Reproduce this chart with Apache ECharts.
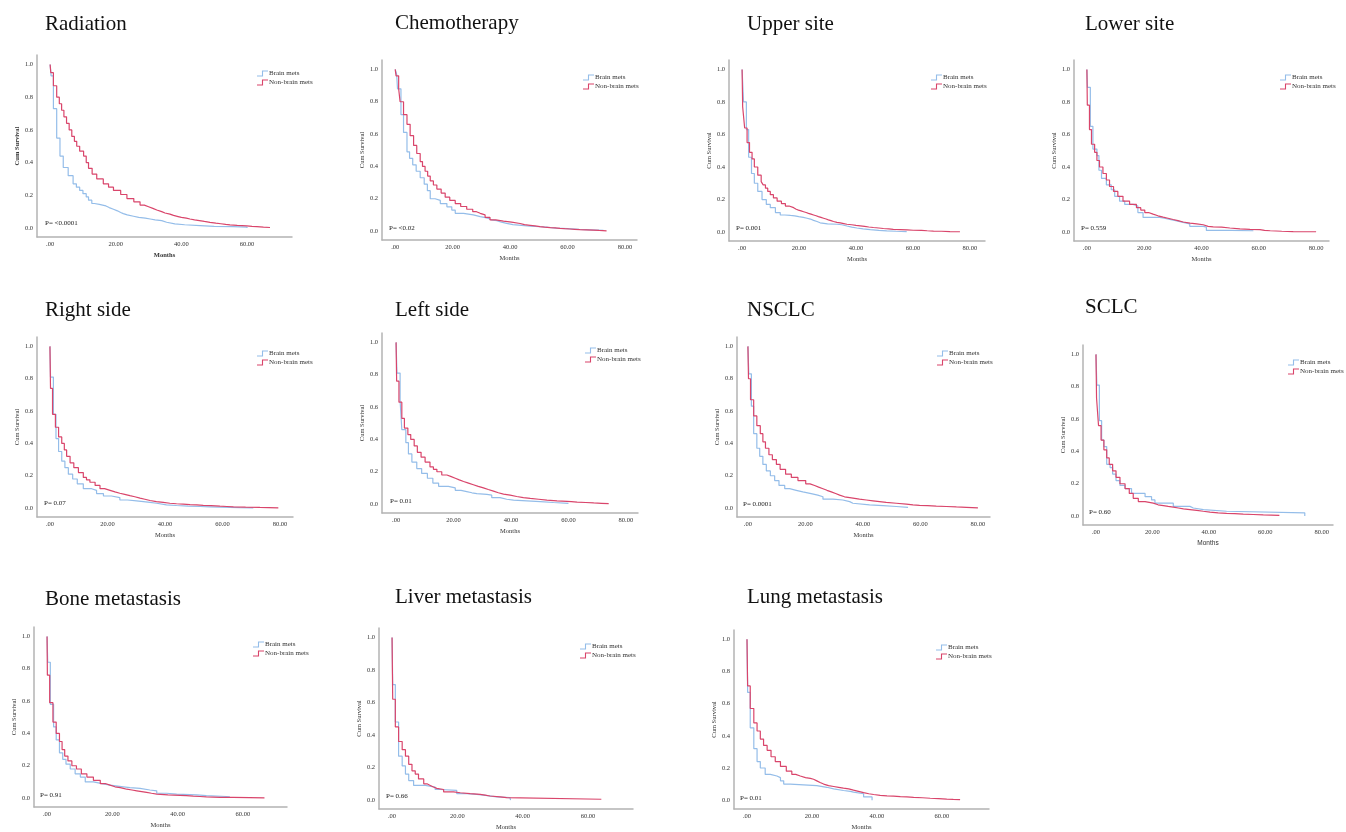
<!DOCTYPE html>
<html>
<head>
<meta charset="utf-8">
<script src="https://cdn.jsdelivr.net/npm/echarts@6/dist/echarts.min.js"></script>
<style>
  html, body { margin: 0; padding: 0; background: #fff; }
  #main { width: 1346px; height: 832px; }
</style>
</head>
<body>
<div id="main"></div>
<script>
// ---- data: [months, cumulative survival] ----
var titles = ['Radiation', 'Chemotherapy', 'Upper site', 'Lower site',
  'Right side', 'Left side', 'NSCLC', 'SCLC',
  'Bone metastasis', 'Liver metastasis', 'Lung metastasis'];
var pValues = ['P= <0.0001', 'P= <0.02', 'P= 0.001', 'P= 0.559',
  'P= 0.07', 'P= 0.01', 'P= 0.0001', 'P= 0.60',
  'P= 0.91', 'P= 0.66', 'P= 0.01'];
var groupNames = ['Brain mets', 'Non-brain mets'];
var xTicks60 = [0, 20, 40, 60];
var xTicks80 = [0, 20, 40, 60, 80];
var yTicks = [0, 0.2, 0.4, 0.6, 0.8, 1.0];

var radiationBrain = [[0,1],[0.3,0.93],[1,0.73],[2,0.55],[3,0.44],[4,0.37],[5.5,0.32],[7,0.27],[8,0.25],[9,0.23],[10,0.21],[11,0.19],[11.7,0.17],[12.7,0.15],[13.5,0.145],[15,0.14],[16,0.135],[17,0.125],[18,0.115],[19.3,0.105],[20.5,0.095],[21.5,0.088],[22.3,0.08],[23.5,0.072],[25.4,0.065],[27,0.06],[29,0.055],[30.5,0.05],[32,0.045],[34,0.035],[35.5,0.025],[38,0.02],[41,0.015],[45.7,0.01],[50,0.008],[55.8,0.005],[60,0]];
var radiationNonBrain = [[0,1],[0.2,0.95],[1,0.87],[2,0.8],[2.8,0.76],[3.5,0.72],[4.2,0.68],[5,0.64],[5.8,0.6],[6.6,0.56],[7.4,0.53],[8.1,0.5],[9,0.47],[10.2,0.44],[11,0.4],[11.7,0.365],[12.8,0.33],[14.2,0.3],[16.2,0.27],[17.8,0.25],[19.3,0.23],[21.5,0.205],[23.4,0.18],[25.5,0.16],[27.4,0.14],[28.7,0.13],[30,0.12],[31.3,0.11],[32.5,0.1],[34,0.092],[35,0.085],[36.5,0.077],[37.6,0.07],[39,0.065],[40,0.06],[41.5,0.055],[42.6,0.05],[44,0.045],[45.5,0.04],[47,0.035],[48.7,0.03],[50.5,0.026],[52,0.022],[53.5,0.019],[54.8,0.016],[57,0.013],[59.9,0.01],[61.5,0.008],[63,0.005],[65,0.003],[67,0]];

var chemoBrain = [[0,1],[0.5,0.97],[0.8,0.88],[2,0.72],[2.9,0.61],[4.1,0.49],[5,0.45],[6.1,0.41],[7.3,0.37],[8.7,0.33],[10.1,0.29],[11.2,0.25],[12.2,0.2],[13.9,0.19],[15.7,0.17],[18,0.15],[19.7,0.13],[20.9,0.11],[23.8,0.1],[27.2,0.09],[29.6,0.085],[31,0.078],[32.5,0.07],[33.5,0.065],[35.4,0.055],[37,0.048],[38.8,0.04],[41,0.035],[44,0.03],[47,0.027],[50.4,0.024],[53,0.019],[56,0.015],[60,0.011],[64,0.008],[68,0.004],[72.5,0]];
var chemoNonBrain = [[0,1],[0.3,0.96],[1.2,0.88],[1.7,0.8],[2.9,0.72],[4.1,0.66],[5.2,0.59],[6.4,0.53],[7.5,0.48],[8.7,0.43],[9.5,0.4],[10.4,0.37],[11.3,0.34],[12.2,0.31],[13.3,0.285],[14.5,0.26],[16,0.235],[17.4,0.21],[19,0.19],[20.9,0.17],[22.8,0.152],[24.9,0.135],[27,0.12],[28.3,0.11],[29.6,0.1],[31.3,0.085],[33,0.07],[35,0.062],[37.7,0.055],[40.5,0.047],[43.5,0.04],[45,0.036],[47,0.032],[48.7,0.028],[50.4,0.025],[52,0.022],[54,0.02],[55.7,0.017],[57.4,0.015],[59,0.013],[60.8,0.011],[62.5,0.009],[64.3,0.008],[66.5,0.006],[69,0.004],[71,0.002],[73.6,0]];

var upperBrain = [[0,1],[0.5,0.8],[1.5,0.63],[2.3,0.46],[3.3,0.36],[4.3,0.3],[5.5,0.25],[7,0.2],[8.5,0.17],[9.9,0.15],[11.7,0.12],[13.4,0.105],[15,0.102],[17,0.1],[18.5,0.095],[19.9,0.09],[21.5,0.085],[22.8,0.08],[24,0.072],[25.1,0.065],[26.3,0.057],[27.4,0.05],[30,0.048],[33.3,0.045],[35,0.037],[36.8,0.03],[38.5,0.025],[40.3,0.02],[42.5,0.015],[45,0.01],[48,0.007],[50.8,0.005],[54,0.003],[57.8,0]];
var upperNonBrain = [[0,1],[0.2,0.77],[0.9,0.64],[1.75,0.55],[2.6,0.49],[3.5,0.45],[4.3,0.4],[5.5,0.35],[6.7,0.31],[7.4,0.29],[8.2,0.27],[9,0.25],[9.9,0.23],[11,0.21],[12.3,0.19],[13.8,0.175],[15.2,0.16],[16.5,0.15],[18.1,0.14],[19,0.135],[19.8,0.13],[20.7,0.125],[21.6,0.12],[22.5,0.115],[23.3,0.11],[24.2,0.105],[25.1,0.1],[26,0.095],[26.8,0.09],[27.7,0.085],[28.6,0.08],[29.5,0.075],[30.3,0.07],[31.2,0.065],[32.1,0.06],[33.3,0.056],[34.5,0.052],[35.7,0.048],[36.8,0.045],[38.5,0.041],[40,0.038],[41.5,0.035],[43,0.031],[44.5,0.028],[46.1,0.025],[48,0.022],[49.6,0.02],[51.5,0.017],[53.1,0.015],[55.5,0.013],[58,0.011],[60.1,0.01],[63,0.008],[65,0.006],[67.2,0.005],[70,0.003],[73,0.002],[76.5,0]];

var lowerBrain = [[0,1],[0.2,0.89],[1.2,0.65],[2.1,0.51],[3.5,0.47],[4.2,0.38],[5.1,0.33],[6.8,0.29],[8.5,0.26],[9.7,0.22],[11.4,0.19],[13.2,0.17],[16.1,0.16],[17.8,0.12],[19.6,0.09],[25.4,0.085],[27,0.078],[28.9,0.07],[31,0.06],[33.6,0.05],[35.9,0.035],[40.6,0.03],[41.7,0.01],[50,0.008],[58.1,0.005]];
var lowerNonBrain = [[0,1],[0.15,0.78],[0.9,0.63],[1.6,0.54],[2.7,0.49],[3.5,0.44],[4.4,0.4],[5.6,0.36],[6.8,0.32],[7.9,0.28],[9.3,0.25],[10.8,0.22],[12.6,0.19],[14.9,0.17],[17.3,0.15],[18.8,0.135],[20.2,0.12],[21.5,0.11],[23.1,0.1],[24.8,0.092],[26.6,0.085],[28.3,0.077],[30.1,0.07],[31.8,0.062],[33.6,0.055],[36,0.05],[38.3,0.045],[40.6,0.035],[42.3,0.032],[44.1,0.03],[47,0.025],[49.9,0.02],[53.4,0.017],[56.9,0.015],[60.4,0.01],[62,0.008],[64,0.005],[68,0.003],[72,0.002],[80,0]];

var rightBrain = [[0,1],[0.2,0.81],[1.2,0.58],[2.1,0.43],[3,0.35],[4.1,0.29],[5.2,0.25],[6.4,0.21],[7.9,0.18],[9.5,0.15],[11.6,0.12],[14.5,0.11],[16.2,0.09],[18.6,0.075],[21.4,0.065],[24.3,0.05],[27,0.045],[30.1,0.04],[32.5,0.035],[34.8,0.03],[37.1,0.02],[40.5,0.016],[44,0.012],[48,0.01],[52.2,0.008],[55.5,0.006],[59.1,0.005],[62.5,0.003],[66,0.002],[70.7,0.002]];
var rightNonBrain = [[0,1],[0.2,0.74],[0.9,0.58],[1.9,0.5],[3,0.44],[4.1,0.4],[5,0.36],[5.8,0.32],[7,0.28],[8.3,0.25],[9.9,0.22],[11.6,0.19],[12.7,0.175],[13.9,0.16],[15.7,0.14],[17.4,0.12],[19,0.11],[20.9,0.1],[22.6,0.092],[24.3,0.085],[26,0.077],[27.8,0.07],[29.5,0.062],[31.3,0.055],[33,0.047],[34.8,0.04],[37,0.035],[39.4,0.03],[41.7,0.027],[44,0.025],[46.3,0.022],[48.7,0.02],[51,0.017],[53.3,0.015],[56,0.012],[59.1,0.01],[61.5,0.008],[63.8,0.006],[68,0.004],[73,0.003],[76,0.002],[79.4,0]];

var leftBrain = [[0,1],[0.3,0.81],[1.4,0.64],[2,0.46],[3.4,0.38],[4.3,0.31],[5.5,0.26],[7.2,0.22],[8.9,0.19],[10.9,0.16],[12.8,0.13],[14.8,0.11],[18.2,0.1],[20.6,0.085],[22.6,0.077],[24.6,0.07],[26.4,0.065],[28.1,0.06],[31.6,0.055],[33.3,0.04],[36.2,0.03],[38.5,0.025],[40.9,0.02],[45.5,0.015],[50.2,0.01],[54.8,0.005],[60,0.005]];
var leftNonBrain = [[0,1],[0.2,0.76],[1,0.63],[2,0.53],[2.9,0.47],[4.1,0.43],[5.1,0.4],[6.3,0.36],[7.4,0.32],[8.7,0.29],[10.1,0.26],[11.8,0.23],[13,0.215],[14.2,0.2],[15.9,0.18],[17.7,0.17],[19.2,0.16],[20.6,0.15],[22,0.14],[23.5,0.13],[25.2,0.12],[26.9,0.11],[28.6,0.1],[30.4,0.09],[32.1,0.08],[33.9,0.07],[35.6,0.062],[37.4,0.055],[39.7,0.047],[42,0.04],[44.3,0.035],[46.7,0.03],[49.6,0.025],[52.5,0.02],[56,0.017],[59.5,0.015],[61,0.012],[63,0.01],[66,0.007],[68.8,0.005],[71.5,0.003],[74,0]];

var nsclcBrain = [[0,1],[0.3,0.83],[1.2,0.63],[2,0.46],[3.1,0.37],[4.1,0.32],[5.2,0.27],[6.4,0.23],[7.8,0.2],[9.3,0.17],[10.8,0.14],[12.8,0.12],[14.5,0.11],[16.8,0.1],[19.1,0.09],[22,0.08],[24.3,0.07],[26.1,0.055],[29.6,0.05],[33,0.04],[35.4,0.03],[36.5,0.02],[42.3,0.015],[47,0.01],[51.6,0.005],[55.7,0.003]];
var nsclcNonBrain = [[0,1],[0.2,0.8],[0.9,0.67],[2,0.57],[3.1,0.51],[4.3,0.46],[5.2,0.41],[6.1,0.37],[7.3,0.33],[8.5,0.3],[9.9,0.27],[11.2,0.24],[13.1,0.21],[15.1,0.19],[17.4,0.17],[20.1,0.15],[21.6,0.14],[23.2,0.13],[24.6,0.12],[26.1,0.11],[27.5,0.1],[29,0.09],[30.5,0.08],[31.9,0.07],[33.6,0.065],[35.4,0.06],[37.1,0.055],[38.8,0.05],[41.2,0.045],[43.5,0.04],[45.8,0.035],[48.1,0.03],[51.6,0.025],[55.1,0.02],[57.4,0.017],[59.7,0.015],[62.5,0.012],[65.5,0.01],[69,0.007],[72.5,0.005],[76,0.002],[80,0]];

var sclcBrain = [[0,1],[0.3,0.81],[1.2,0.59],[2,0.47],[2.8,0.43],[3.8,0.32],[5,0.3],[5.9,0.26],[7.1,0.22],[8.5,0.19],[10.3,0.17],[12.6,0.14],[17.4,0.12],[19.7,0.1],[20.9,0.08],[27.4,0.06],[33.3,0.05],[34.5,0.04],[38.1,0.03],[46.3,0.02],[74,0]];
var sclcNonBrain = [[0,1],[0.2,0.73],[0.9,0.56],[1.8,0.47],[2.8,0.41],[3.8,0.36],[4.7,0.32],[5.9,0.28],[7.1,0.24],[8.5,0.2],[10.3,0.17],[11.8,0.14],[13.2,0.11],[15,0.09],[17.4,0.08],[20.3,0.07],[22,0.065],[23.9,0.06],[25.6,0.055],[27.4,0.05],[29.2,0.045],[31,0.04],[33.3,0.035],[35.7,0.03],[38,0.025],[40.4,0.02],[43.3,0.017],[46.3,0.015],[49.2,0.012],[52.2,0.01],[55.7,0.007],[59.3,0.005],[65,0.005]];

var boneBrain = [[0,1],[0.2,0.84],[1,0.58],[2,0.44],[2.8,0.36],[3.8,0.28],[4.8,0.24],[5.8,0.21],[7.1,0.18],[8.6,0.15],[10.2,0.13],[11.7,0.1],[14.2,0.09],[16.8,0.08],[19.3,0.07],[23.4,0.065],[25.4,0.06],[28.5,0.05],[31.5,0.045],[33.6,0.03],[36.6,0.025],[39.7,0.02],[45.8,0.015],[48.8,0.01],[54.9,0.008],[56,0.008]];
var boneNonBrain = [[0,1],[0.1,0.76],[0.8,0.59],[1.8,0.47],[2.8,0.4],[3.8,0.35],[4.6,0.3],[5.4,0.26],[6.4,0.23],[7.6,0.2],[9,0.18],[10.5,0.15],[12.2,0.13],[14.2,0.11],[16.3,0.09],[17.8,0.08],[19.3,0.07],[20.8,0.065],[22.4,0.06],[23.4,0.055],[24.4,0.05],[26,0.045],[27.5,0.04],[29,0.035],[30.5,0.03],[32,0.025],[33.6,0.02],[37,0.017],[40.7,0.015],[42.7,0.012],[44.8,0.01],[46.8,0.007],[48.8,0.005],[53,0.004],[57,0.003],[62,0.002],[66.6,0]];

var liverBrain = [[0,1],[0.2,0.71],[1,0.48],[2,0.27],[3.1,0.21],[4.1,0.16],[5.1,0.12],[6.6,0.09],[10.2,0.08],[13.2,0.065],[14.8,0.06],[19.8,0.04],[22.9,0.035],[25.9,0.03],[28,0.02],[32,0.015],[36.1,0.01],[36.3,0]];
var liverNonBrain = [[0,1],[0.2,0.62],[1,0.45],[2,0.36],[3.1,0.31],[4.1,0.27],[5.1,0.22],[6.1,0.18],[7.1,0.16],[8.1,0.13],[9.7,0.1],[10.7,0.09],[11.7,0.08],[12.7,0.072],[13.7,0.065],[15.8,0.05],[18.8,0.045],[20.9,0.04],[23.9,0.035],[27,0.03],[28.5,0.025],[30,0.02],[33.1,0.015],[35.1,0.01],[35.6,0.005],[64.1,0.005]];

var lungBrain = [[0,1],[0.2,0.67],[1,0.45],[2.1,0.32],[3.1,0.24],[4.1,0.2],[5.6,0.16],[7.2,0.15],[9.2,0.14],[10.3,0.12],[11.3,0.1],[13.3,0.09],[21.5,0.08],[24.6,0.07],[26.7,0.06],[29.7,0.055],[31.8,0.05],[32.8,0.04],[35.9,0.02],[38.5,0]];
var lungNonBrain = [[0,1],[0.2,0.71],[1,0.57],[2.1,0.48],[3.1,0.43],[4.1,0.38],[5.1,0.34],[6.2,0.31],[7.4,0.27],[8.7,0.24],[10.3,0.21],[12.1,0.18],[13.8,0.16],[15,0.15],[16.4,0.14],[18,0.135],[19.5,0.13],[20.5,0.12],[21.5,0.11],[22.5,0.1],[23.6,0.09],[25.1,0.085],[26.7,0.08],[28.2,0.075],[29.7,0.07],[31.3,0.062],[32.8,0.055],[34.3,0.047],[35.9,0.04],[37.5,0.035],[39,0.03],[41,0.027],[43.1,0.025],[45.1,0.022],[47.2,0.02],[49.2,0.017],[51.3,0.015],[54,0.012],[56.4,0.01],[59,0.007],[61.5,0.005],[63.5,0.003],[65.6,0]];

var brainSets = [radiationBrain, chemoBrain, upperBrain, lowerBrain, rightBrain, leftBrain, nsclcBrain, sclcBrain, boneBrain, liverBrain, lungBrain];
var nonBrainSets = [radiationNonBrain, chemoNonBrain, upperNonBrain, lowerNonBrain, rightNonBrain, leftNonBrain, nsclcNonBrain, sclcNonBrain, boneNonBrain, liverNonBrain, lungNonBrain];
var xTickSets = [xTicks60, xTicks80, xTicks80, xTicks80, xTicks80, xTicks80, xTicks80, xTicks80, xTicks60, xTicks60, xTicks60];

// ---- layout: grid [left, top, width, height], x range, legend, p-value, title ----
var layout = [
  { grid: [37, 55, 255, 182],   x: [-4, 73.7],   legend: [257, 70],   p: [45, 223],   title: [45, 14] },
  { grid: [382, 60, 255, 180],  x: [-4.6, 84.2], legend: [583, 74],   p: [389, 228],  title: [395, 13] },
  { grid: [729, 60, 256, 181],  x: [-4.6, 85.3], legend: [931, 74],   p: [736, 228],  title: [747, 14] },
  { grid: [1074, 60, 255, 181], x: [-4.5, 84.5], legend: [1280, 74],  p: [1081, 228], title: [1085, 14] },
  { grid: [37, 337, 256, 180],  x: [-4.5, 84.5], legend: [257, 350],  p: [44, 503],   title: [45, 300] },
  { grid: [382, 333, 256, 180], x: [-4.9, 84.2], legend: [585, 347],  p: [390, 501],  title: [395, 300] },
  { grid: [737, 337, 253, 180], x: [-3.8, 84.2], legend: [937, 350],  p: [743, 504],  title: [747, 300] },
  { grid: [1083, 345, 250, 180],x: [-4.6, 84],   legend: [1288, 359], p: [1089, 512], title: [1085, 297] },
  { grid: [34, 627, 253, 180],  x: [-4, 73.5],   legend: [253, 641],  p: [40, 795],   title: [45, 589] },
  { grid: [379, 628, 254, 182], x: [-4, 73.8],   legend: [580, 643],  p: [386, 796],  title: [395, 587] },
  { grid: [734, 630, 255, 182], x: [-4, 74.5],   legend: [936, 644],  p: [740, 798],  title: [747, 587] }
];

var serif = 'Liberation Serif';
var blue = '#94bde9';
var red = '#d9456b';
var axisGray = '#b3b3b3';
var stepIcon = 'path://M0,8.4 L5.4,8.4 L5.4,0 L12,0 L12,1.6 L6.6,1.6 L6.6,10 L0,10 Z';

var option = {
  backgroundColor: '#fff',
  animation: false,
  title: [], grid: [], xAxis: [], yAxis: [], series: [], legend: [], graphic: []
};

layout.forEach(function (l, i) {
  var bold = i === 0 ? 'bold' : 'normal';
  option.title.push({
    text: titles[i], left: l.title[0], top: l.title[1], padding: 0,
    textStyle: { fontFamily: serif, fontSize: 21, fontWeight: 'normal', color: '#111' }
  });
  option.grid.push({ left: l.grid[0], top: l.grid[1], width: l.grid[2], height: l.grid[3] });
  option.xAxis.push({
    type: 'value', gridIndex: i, min: l.x[0], max: l.x[1],
    name: 'Months', nameLocation: 'middle', nameGap: 15,
    nameTextStyle: { fontFamily: i === 7 ? 'Liberation Sans' : serif, fontSize: 6.5, color: '#333', fontWeight: bold },
    axisLine: { show: true, onZero: false, lineStyle: { color: axisGray, width: 1.5 } },
    axisTick: { show: false },
    splitLine: { show: false },
    axisLabel: {
      customValues: xTickSets[i], margin: 4,
      fontFamily: serif, fontSize: 6.5, color: '#333',
      formatter: function (v) { return v === 0 ? '.00' : v.toFixed(2); }
    }
  });
  option.yAxis.push({
    type: 'value', gridIndex: i, min: -0.055, max: 1.058,
    name: 'Cum Survival', nameLocation: 'middle', nameGap: 15, nameRotate: 90,
    nameTextStyle: { fontFamily: serif, fontSize: 6.5, color: '#333', fontWeight: bold },
    axisLine: { show: true, onZero: false, lineStyle: { color: axisGray, width: 1.5 } },
    axisTick: { show: false },
    splitLine: { show: false },
    axisLabel: {
      customValues: yTicks, margin: 4,
      fontFamily: serif, fontSize: 6.5, color: '#333',
      formatter: function (v) { return v.toFixed(1); }
    }
  });
  [brainSets[i], nonBrainSets[i]].forEach(function (d, k) {
    option.series.push({
      name: groupNames[k], type: 'line', step: 'end',
      xAxisIndex: i, yAxisIndex: i, data: d,
      showSymbol: false, symbol: 'none', silent: true,
      color: k === 0 ? blue : red,
      lineStyle: { width: 1.2, color: k === 0 ? blue : red }
    });
  });
  option.legend.push({
    data: groupNames, orient: 'vertical', left: l.legend[0], top: l.legend[1],
    icon: stepIcon, itemWidth: 11, itemHeight: 6, itemGap: 2,
    symbolKeepAspect: false, padding: 0, selectedMode: false,
    textStyle: { fontFamily: serif, fontSize: 7, color: '#333', padding: [0, 0, 0, -4] }
  });
  option.graphic.push({
    type: 'text', x: l.p[0], y: l.p[1], silent: true,
    style: { text: pValues[i], fontFamily: serif, fontSize: 7, fill: '#222', verticalAlign: 'middle' }
  });
});

var chart = echarts.init(document.getElementById('main'), null, { renderer: 'canvas' });
chart.setOption(option);
</script>
</body>
</html>
